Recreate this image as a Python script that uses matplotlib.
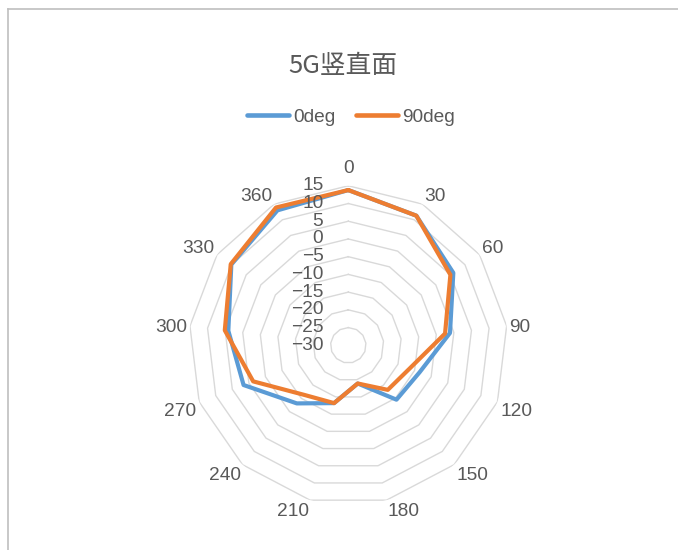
import numpy as np
import matplotlib
matplotlib.use("Agg")
import matplotlib.pyplot as plt
from matplotlib.lines import Line2D
from matplotlib.transforms import ScaledTranslation

# Data: antenna gain (dB) by rotation angle, vertical plane
categories = [0, 30, 60, 90, 120, 150, 180, 210, 240, 270, 300, 330, 360]
gain_0deg = [13.8, 11.3, 6.0, -1.1, -8.5, -9.5, -18.9, -13.2, -8.1, 1.6, 4.1, 10.1, 13.0]
gain_90deg = [13.8, 11.3, 5.0, -2.5, -11.5, -13.2, -18.9, -13.2, -11.3, -1.3, 5.1, 10.3, 13.9]
series_names = ["0deg", "90deg"]
radial_ticks = [-30, -25, -20, -15, -10, -5, 0, 5, 10, 15]

plt.rcParams['font.family'] = ['Liberation Sans', 'Noto Sans CJK SC']
TEXT = '#595959'
GRID = '#d9d9d9'
BLUE = '#5B9BD5'
ORANGE = '#ED7D31'
FS = 13.8

W, H, DPI = 678, 550, 100
fig = plt.figure(figsize=(W / DPI, H / DPI), dpi=DPI)
fig.patch.set_facecolor('white')

# chart area border (top and left edges)
fig.add_artist(Line2D([7.5 / W, 7.5 / W], [0, 1 - 9 / H], color='#bfbfbf', lw=1.2))
fig.add_artist(Line2D([7.5 / W, 1], [1 - 9 / H, 1 - 9 / H], color='#bfbfbf', lw=1.2))

# polar plot area
cx, cy, R = 348.3, 345.3, 159.5
ax = fig.add_axes([(cx - R) / W, (H - cy - R) / H, 2 * R / W, 2 * R / H], projection='polar')
ax.set_theta_zero_location('N')
ax.set_theta_direction(-1)
rmin, rmax = radial_ticks[0], radial_ticks[-1]
ax.set_ylim(rmin, rmax)
ax.grid(False)
ax.spines['polar'].set_visible(False)
ax.set_xticks([])
ax.set_yticks([])
ax.patch.set_alpha(0)
px_per_unit = R / (rmax - rmin)

n = len(categories)
theta = np.deg2rad(np.arange(n) * 360.0 / n)
theta_closed = np.append(theta, theta[0])

# polygon gridlines
for lvl in radial_ticks[1:]:
    ax.plot(theta_closed, [lvl] * (n + 1), color=GRID, lw=1.0, zorder=1)

# series
for vals, color, name in [(gain_0deg, BLUE, series_names[0]), (gain_90deg, ORANGE, series_names[1])]:
    v = np.append(vals, vals[0])
    ax.plot(theta_closed, v, color=color, lw=3.0, solid_joinstyle='round',
            solid_capstyle='round', zorder=3, label=name)

# radial axis labels
shift = ax.transData + ScaledTranslation(-25 / DPI, 0, fig.dpi_scale_trans)
for lvl in radial_ticks:
    ax.text(0, lvl, f"{lvl}".replace('-', '\u2212'), transform=shift,
            ha='right', va='center', fontsize=FS, color=TEXT, zorder=4)

# category labels: nearest corner of each label sits just outside the outer ring
for t, c in zip(theta, categories):
    s, co = np.sin(t), np.cos(t)
    gap = 13 if abs(s) < 0.1 else 3
    r_anchor = rmax + gap / px_per_unit
    ha = 'left' if s > 0.1 else ('right' if s < -0.1 else 'center')
    if co > 0.2:
        va = 'baseline'
    elif co < -0.2:
        va = 'top'
    else:
        va = 'center_baseline'
    ax.text(t, r_anchor, str(c), ha=ha, va=va, fontsize=FS,
            color=TEXT, clip_on=False)

# title
fig.text(343 / W, 1 - 66 / H, "5G竖直面", ha='center', va='center',
         fontsize=18.5, color=TEXT, family=['Noto Sans CJK SC'])

# legend
handles = [Line2D([], [], color=BLUE, lw=3.3, solid_capstyle='round'),
           Line2D([], [], color=ORANGE, lw=3.3, solid_capstyle='round')]
leg = fig.legend(handles, series_names, loc='center', bbox_to_anchor=(351 / W, 1 - 117 / H),
                 ncol=2, frameon=False, fontsize=FS, handlelength=2.2,
                 handletextpad=0.2, columnspacing=1.1, borderpad=0)
for txt in leg.get_texts():
    txt.set_color(TEXT)

fig.savefig("out.png", dpi=DPI)
